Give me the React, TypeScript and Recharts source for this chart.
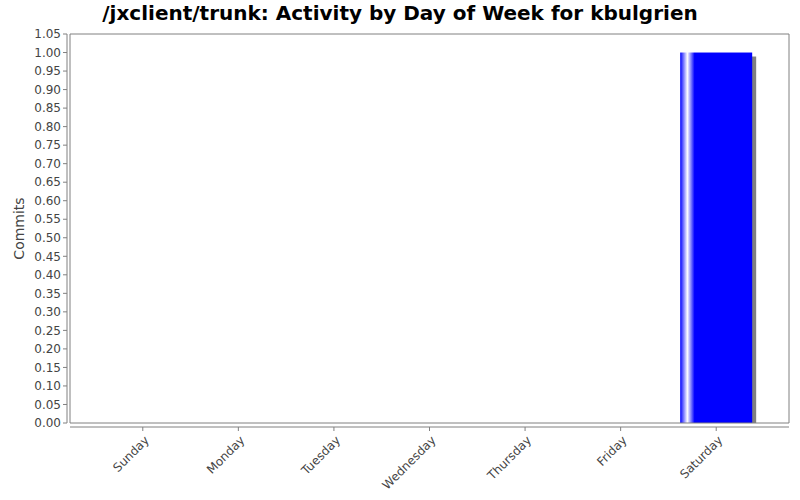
import { BarChart, Bar, XAxis, YAxis } from "recharts";

const days = ["Sunday", "Monday", "Tuesday", "Wednesday", "Thursday", "Friday", "Saturday"];
const commits = [0, 0, 0, 0, 0, 0, 1];
const yTicks = [
  0, 0.05, 0.1, 0.15, 0.2, 0.25, 0.3, 0.35, 0.4, 0.45, 0.5, 0.55, 0.6, 0.65, 0.7, 0.75, 0.8,
  0.85, 0.9, 0.95, 1.0, 1.05,
];
const yMax = 1.05;

const data = days.map((day, i) => ({ day, commits: commits[i] }));

const FONT = "'DejaVu Sans', sans-serif";
const AXIS = "#808080";
const LABEL = "#444444";

function DayTick({ x, y, payload }: any) {
  return (
    <text
      transform={`translate(${x + 7},${y + 13}) rotate(-45)`}
      textAnchor="end"
      fontFamily={FONT}
      fontSize={12}
      fill={LABEL}
    >
      {payload.value}
    </text>
  );
}

function ShadowBar({ x, y, width, height }: any) {
  if (!height) return null;
  return (
    <g>
      <rect x={x + 4} y={y + 4} width={width} height={height - 4} fill="#808080" />
      <rect x={x} y={y} width={width} height={height} fill="url(#barGrad)" />
    </g>
  );
}

export default function App() {
  return (
    <div style={{ position: "absolute", left: 0, top: 0, width: 800, height: 500, background: "#fff" }}>
      <div
        style={{
          position: "absolute",
          top: 1,
          left: 0,
          width: 800,
          textAlign: "center",
          fontFamily: FONT,
          fontWeight: "bold",
          fontSize: 20,
          lineHeight: "24px",
          color: "#000",
        }}
      >
        /jxclient/trunk: Activity by Day of Week for kbulgrien
      </div>
      <BarChart
        width={800}
        height={500}
        data={data}
        margin={{ top: 33, right: 10, left: 0, bottom: 0 }}
        barCategoryGap="12.3%"
      >
        <defs>
          <linearGradient id="barGrad" x1="0" y1="0" x2="1" y2="0">
            <stop offset="0" stopColor="#0000ff" />
            <stop offset="0.1" stopColor="#ffffff" />
            <stop offset="0.2" stopColor="#0000ff" />
            <stop offset="1" stopColor="#0000ff" />
          </linearGradient>
        </defs>
        {/* plot frame edges, drawn as bare 1px axes; id 0 sits next to the plot */}
        <XAxis xAxisId={0} dataKey="day" height={1} tick={false} tickLine={false} axisLine={{ stroke: AXIS }} />
        <XAxis xAxisId={2} dataKey="day" orientation="top" height={1} tick={false} tickLine={false} axisLine={{ stroke: AXIS }} />
        <YAxis yAxisId={0} width={1} domain={[0, yMax]} tick={false} tickLine={false} axisLine={{ stroke: AXIS }} />
        <YAxis yAxisId={2} orientation="right" width={1} domain={[0, yMax]} tick={false} tickLine={false} axisLine={{ stroke: AXIS }} />
        <XAxis
          xAxisId={1}
          dataKey="day"
          height={76}
          padding={{ left: 25, right: 25 }}
          tick={<DayTick />}
          tickSize={4}
          tickMargin={0}
          interval={0}
          axisLine={{ stroke: AXIS, transform: "translate(0,3)" }}
          tickLine={{ stroke: AXIS, transform: "translate(0,3)" }}
        />
        <YAxis
          yAxisId={1}
          width={69}
          domain={[0, yMax]}
          ticks={yTicks}
          interval={0}
          tickFormatter={(v: number) => v.toFixed(2)}
          tickSize={4}
          tickMargin={4}
          tick={{ fill: LABEL, fontSize: 12, fontFamily: FONT }}
          axisLine={{ stroke: AXIS, transform: "translate(-2,0)" }}
          tickLine={{ stroke: AXIS, transform: "translate(-2,0)" }}
          label={{
            value: "Commits",
            angle: -90,
            position: "insideLeft",
            offset: 19,
            fill: LABEL,
            fontSize: 14,
            fontFamily: FONT,
            style: { textAnchor: "middle" },
          }}
        />
        <Bar
          dataKey="commits"
          xAxisId={1}
          yAxisId={1}
          shape={<ShadowBar />}
          isAnimationActive={false}
        />
      </BarChart>
    </div>
  );
}
